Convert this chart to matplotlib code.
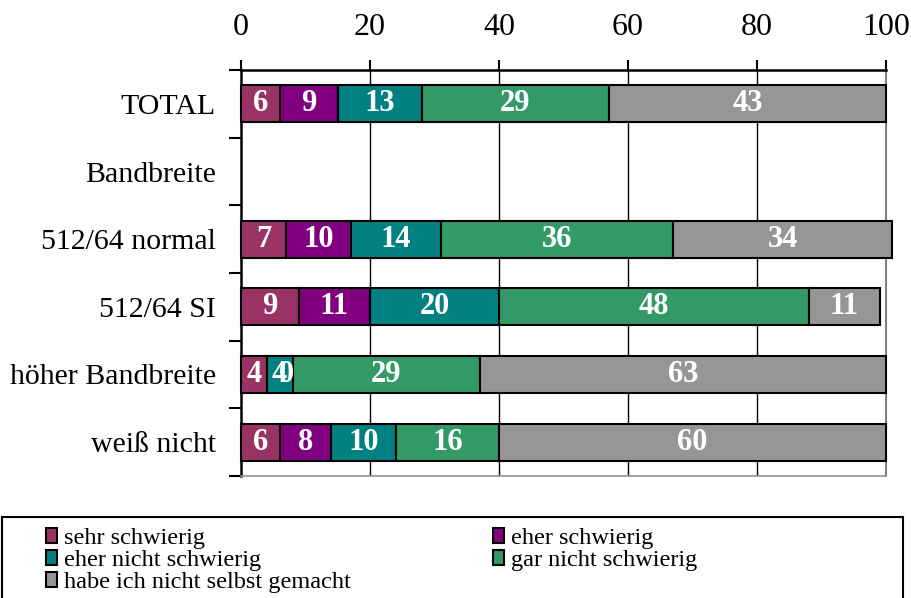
import matplotlib
matplotlib.use("Agg")
import matplotlib.pyplot as plt
from matplotlib.patches import Rectangle, Patch
import numpy as np

plt.rcParams['font.family'] = ['Liberation Serif', 'DejaVu Serif']

categories = ["TOTAL", "Bandbreite", "512/64 normal", "512/64 SI", "höher Bandbreite", "weiß nicht"]
series_names = ["sehr schwierig", "eher schwierig", "eher nicht schwierig",
                "gar nicht schwierig", "habe ich nicht selbst gemacht"]
sehr = [6, None, 7, 9, 4, 6]
eher = [9, None, 10, 11, 0, 8]
eher_nicht = [13, None, 14, 20, 4, 10]
gar_nicht = [29, None, 36, 48, 29, 16]
habe = [43, None, 34, 11, 63, 60]
series = [sehr, eher, eher_nicht, gar_nicht, habe]
colors = ["#993366", "#800080", "#008080", "#339966", "#969696"]
xticks = [0, 20, 40, 60, 80, 100]

W, H = 912, 598
fig = plt.figure(figsize=(W / 100, H / 100), dpi=100)
ax = fig.add_axes([241 / W, 1 - 476 / H, (886 - 241) / W, (476 - 70) / H])

n = len(categories)
ypos = np.arange(n)
left = np.zeros(n)
for vals, col, name in zip(series, colors, series_names):
    v = np.array([0 if x is None else x for x in vals], dtype=float)
    mask = np.array([x is not None for x in vals])
    ax.barh(ypos[mask], v[mask], left=left[mask], height=0.55, color=col,
            edgecolor="black", linewidth=1.5, zorder=3, clip_on=False)
    for i in range(n):
        if vals[i] is None:
            continue
        c = left[i] + v[i] / 2
        if v[i] == 0:
            # zero-width segment: label lands on the next segment, as in the reference
            ax.annotate(f"{int(vals[i])}", (c, ypos[i]), xytext=(14, 0), textcoords="offset points",
                        ha="center", va="center", color="white", fontweight="bold", fontsize=22,
                        zorder=5, annotation_clip=False)
        else:
            ax.text(c, ypos[i], f"{int(vals[i])}", ha="center", va="center", color="white",
                    fontweight="bold", fontsize=22, zorder=5, clip_on=False)
    left = left + v

ax.set_xlim(0, 100)
ax.set_ylim(n - 0.5, -0.5)
ax.xaxis.tick_top()
ax.set_xticks(xticks)
ax.set_xticklabels([str(t) for t in xticks], fontsize=23)
ax.tick_params(axis="x", direction="out", length=7, width=1.5, pad=13, color="black")
ax.set_yticks(ypos)
ax.set_yticklabels(categories, fontsize=21.5)
ax.tick_params(axis="y", which="major", length=0, pad=18)
ax.set_yticks(np.arange(n + 1) - 0.5, minor=True)
ax.tick_params(axis="y", which="minor", length=9, width=1.5, direction="out", color="black")
ax.tick_params(axis="x", which="minor", length=0)

for t in xticks[1:-1]:
    ax.axvline(t, color="black", linewidth=1.0, zorder=1)

ax.spines["top"].set_linewidth(1.8)
ax.spines["left"].set_linewidth(1.8)
ax.spines["right"].set_color("#808080")
ax.spines["right"].set_linewidth(1.5)
ax.spines["bottom"].set_color("#909090")
ax.spines["bottom"].set_linewidth(1.2)

# legend frame
fig.patches.append(Rectangle((2 / W, -0.05), (903 - 2) / W, 1 - 517 / H + 0.05,
                             transform=fig.transFigure, fill=False, edgecolor="black",
                             linewidth=1.5, clip_on=False))
handles = [Patch(facecolor=c, edgecolor="black", linewidth=1.5) for c in colors]
leg_kw = dict(loc="upper left", frameon=False, fontsize=17.5, handlelength=0.45,
              handleheight=0.55, handletextpad=0.3, labelspacing=0.04,
              borderpad=0, borderaxespad=0)
col1 = [0, 2, 4]
col2 = [1, 3]
leg1 = fig.legend([handles[i] for i in col1], [series_names[i] for i in col1],
                  bbox_to_anchor=(46 / W, 1 - 528 / H), **leg_kw)
leg2 = fig.legend([handles[i] for i in col2], [series_names[i] for i in col2],
                  bbox_to_anchor=(493 / W, 1 - 528 / H), **leg_kw)

fig.savefig("out.png", dpi=100)
